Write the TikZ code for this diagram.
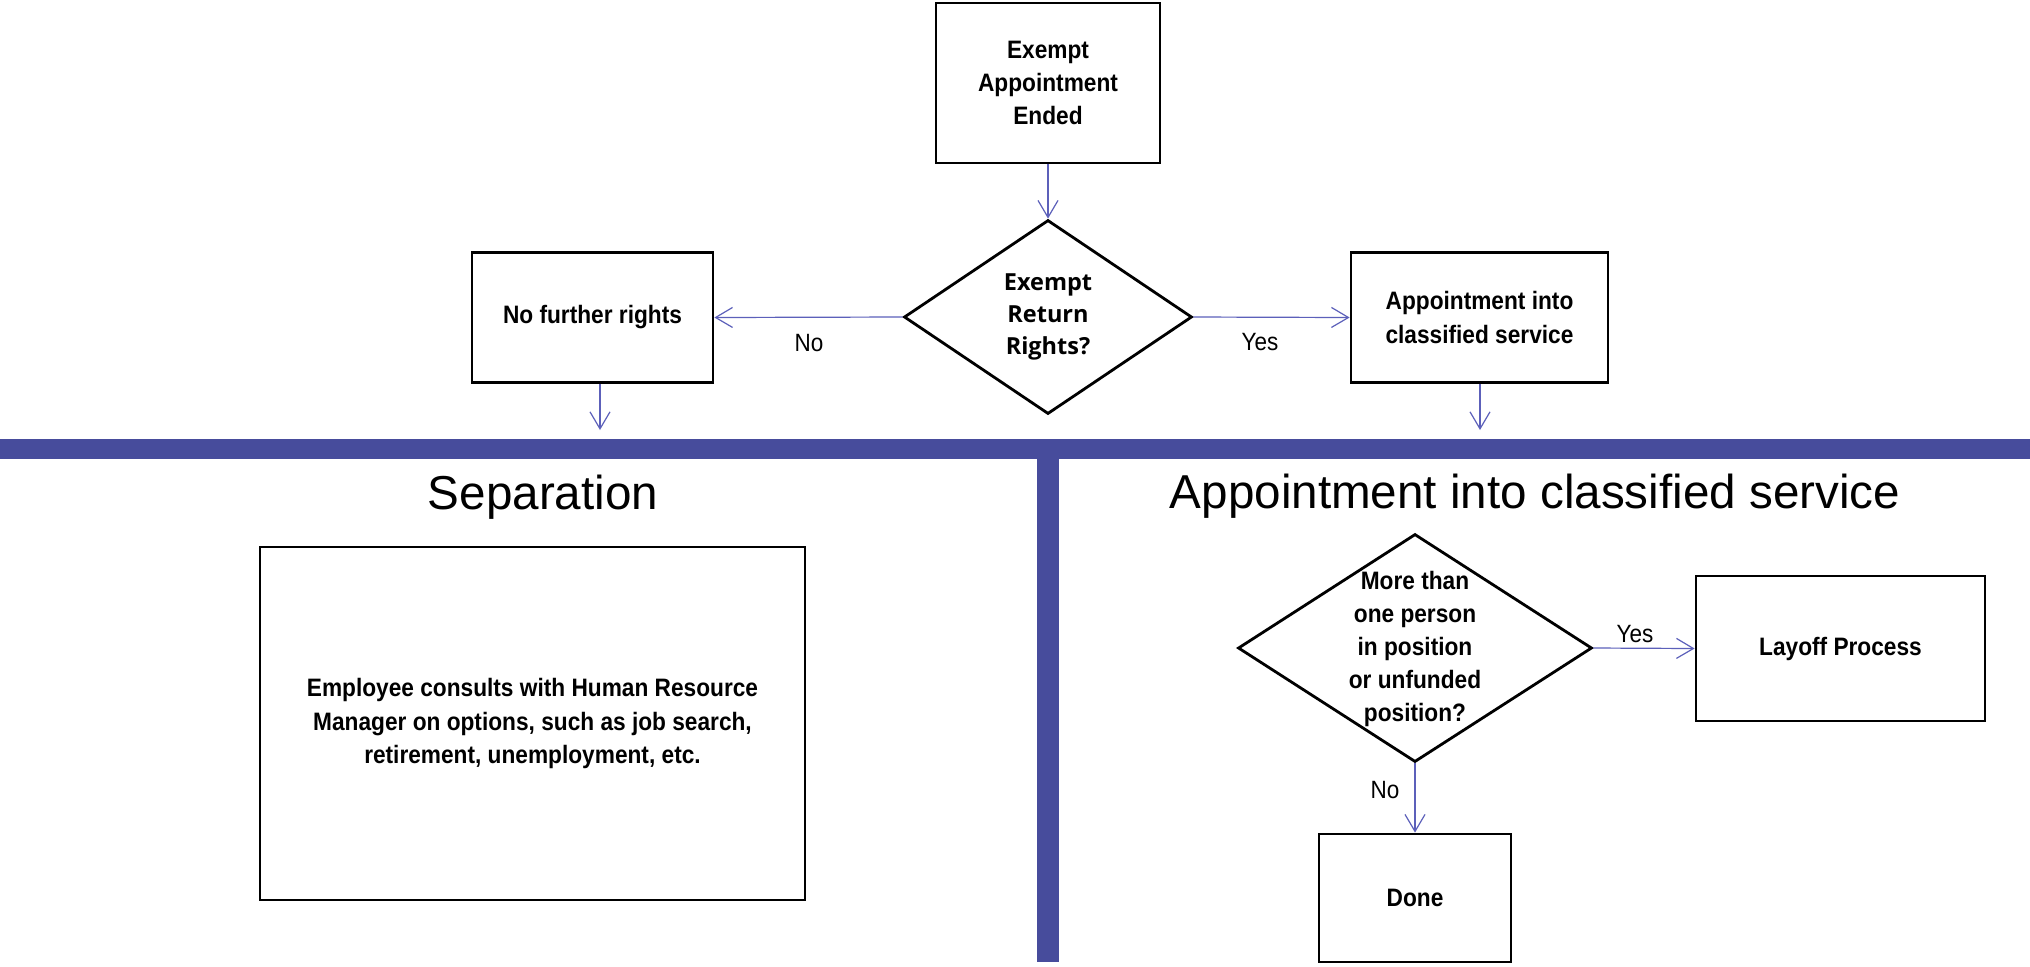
\documentclass[tikz,border=0pt]{standalone}
\usepackage{fontspec}
\setmainfont{Liberation Sans}
\newfontfamily\narrowfont[FakeStretch=0.9]{Liberation Sans}
\newfontfamily\opensansfont{Open Sans}
\usetikzlibrary{shapes.geometric,arrows.meta}
\definecolor{bandc}{RGB}{71,76,156}
\definecolor{arrc}{RGB}{92,96,186}
\begin{document}
\begin{tikzpicture}[x=0.5pt,y=-0.5pt,
  boxnode/.style={draw=black, line width=1.4pt, rectangle, align=center, inner sep=0pt,
    font={\narrowfont\bfseries\fontsize{12.6}{16.6}\selectfont}},
  diamnode/.style={draw=black, line width=1.4pt, diamond, inner sep=0pt},
  dtext/.style={align=center, inner sep=0pt},
  arr/.style={draw=arrc, line width=0.6pt, -{Straight Barb[length=8.5pt,width=10pt,line width=0.6pt]}},
  lbl/.style={anchor=base, inner sep=0pt, font={\narrowfont\fontsize{12.5}{15}\selectfont}},
  title/.style={anchor=base, inner sep=0pt, font={\fontsize{23.8}{28}\selectfont}}
]
\useasboundingbox (0,0) rectangle (2030,966);
\fill[white] (0,0) rectangle (2030,966);

% bands
\fill[bandc] (0,439) rectangle (2030,459);
\fill[bandc] (1037,459) rectangle (1059,962);

% top part
\node[boxnode, minimum width=112pt, minimum height=80pt] (top) at (1048,83) {Exempt\\Appointment\\Ended};
\node[diamnode, minimum width=144pt, minimum height=97pt] (d1) at (1048,317) {};
\node[dtext, font={\opensansfont\bfseries\fontsize{11.75}{16}\selectfont}] (d1t) at (1048,317) {Exempt\\Return\\Rights?};
\node[boxnode, minimum width=120.5pt, minimum height=65pt] (nofr) at (592.5,317.5) {No further rights};
\node[boxnode, minimum width=128.5pt, minimum height=65pt] (appt) at (1479.5,317.5) {Appointment into\\classified service};

\draw[arr] (top.south) -- (d1.north);
\draw[arr] (d1.west) -- (nofr.east);
\draw[arr] (d1.east) -- (appt.west);
\node[lbl] (nolbl) at (809,351) {No};
\node[lbl] (yeslbl) at (1260,350) {Yes};

\coordinate (sepin) at (600,430);
\coordinate (appin) at (1480,430);
\draw[arr] (nofr.south -| sepin) -- (sepin);
\draw[arr] (appt.south -| appin) -- (appin);

% titles
\node[title] (septitle) at (543,509) {Separation};
\node[title] (apptitle) at (1535,508) {Appointment into classified service};

% separation box
\node[boxnode, minimum width=272.5pt, minimum height=176.5pt] (sepbox) at (532.5,723.5)
  {Employee consults with Human Resource\\Manager on options, such as job search,\\retirement, unemployment, etc.};

% right lower part
\node[diamnode, minimum width=177pt, minimum height=114pt] (d2) at (1415,648) {};
\node[dtext, font={\narrowfont\bfseries\fontsize{12.6}{16.6}\selectfont}] (d2t) at (1415,649)
  {More than\\one person\\in position\\or unfunded\\position?};
\node[boxnode, minimum width=144.5pt, minimum height=72.5pt] (layoff) at (1840.5,648.5) {Layoff Process};
\node[boxnode, minimum width=96pt, minimum height=64pt] (done) at (1415,898) {Done};

\draw[arr] (d2.east) -- (layoff.west);
\draw[arr] (d2.south) -- (done.north);
\node[lbl] (yes2) at (1635,642) {Yes};
\node[lbl] (no2) at (1385,798) {No};
\end{tikzpicture}
\end{document}
